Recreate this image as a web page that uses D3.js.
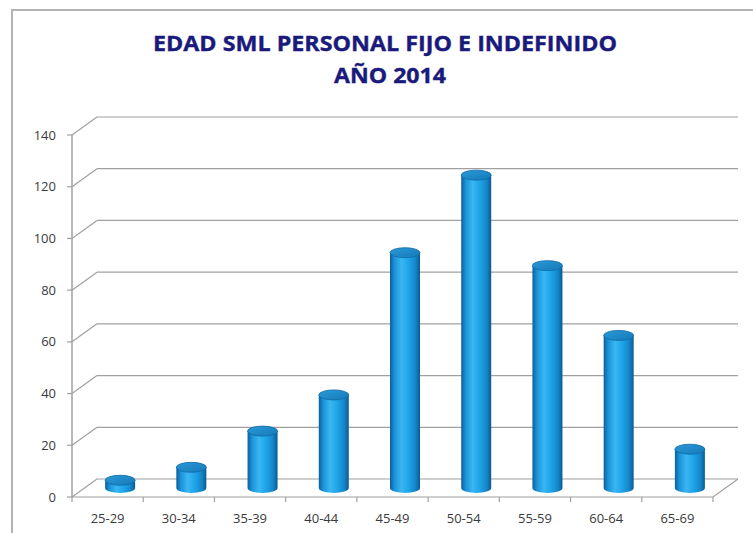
<!DOCTYPE html>
<html>
<head>
<meta charset="utf-8">
<script src="https://cdn.jsdelivr.net/npm/d3@7"></script>
<style>
  body { margin: 0; background: #fff; }
  svg { display: block; }
  text { font-family: "Open Sans", "Liberation Sans", sans-serif; }
</style>
</head>
<body>
<svg id="chart" width="753" height="533"></svg>
<script>
// data
const ageGroups = ["25-29", "30-34", "35-39", "40-44", "45-49", "50-54", "55-59", "60-64", "65-69"];
const staffCount = [3, 8, 22, 36, 91, 121, 86, 59, 15];
const yTicks = [0, 20, 40, 60, 80, 100, 120, 140];
const titleLines = ["EDAD SML PERSONAL FIJO E INDEFINIDO", "AÑO 2014"];

const svg = d3.select('#chart');

// depth of the 3d box (back wall offset)
const depthX = 25, depthY = -18;

const xScale = d3.scaleBand()
    .domain(ageGroups)
    .range([72, 713]);

const yScale = d3.scaleLinear()
    .domain([0, 140])
    .range([497, 135]);

const gridColor = '#a0a0a0';

// outer frame (cut off at right and bottom)
svg.append('path')
    .attr('d', 'M12,533 L12,10 L753,10')
    .attr('fill', 'none')
    .attr('stroke', '#b3b3b3')
    .attr('stroke-width', 2);

// title
titleLines.forEach((t, i) => {
    svg.append('text')
        .attr('x', i === 0 ? 385 : 390)
        .attr('y', i === 0 ? 51 : 83)
        .attr('text-anchor', 'middle')
        .attr('textLength', i === 0 ? 464 : 112)
        .attr('lengthAdjust', 'spacingAndGlyphs')
        .style('font-size', '22px')
        .style('font-weight', 'bold')
        .style('fill', '#1a1a7c')
        .style('stroke', '#1a1a7c')
        .style('stroke-width', 0.4)
        .text(t);
});

const grid = svg.append('g');

// back wall gridlines + left wall diagonals
yTicks.forEach(v => {
    const y = yScale(v);
    grid.append('line')
        .attr('x1', xScale.range()[0] + depthX).attr('x2', xScale.range()[1] + depthX)
        .attr('y1', y + depthY).attr('y2', y + depthY)
        .attr('stroke', gridColor).attr('stroke-width', 1.2);
    grid.append('line')
        .attr('x1', xScale.range()[0]).attr('x2', xScale.range()[0] + depthX)
        .attr('y1', y).attr('y2', y + depthY)
        .attr('stroke', gridColor).attr('stroke-width', 1.2);
});

// floor front edge and right edge
const x0 = xScale.range()[0], x1 = xScale.range()[1], yb = yScale(0);
grid.append('path')
    .attr('d', `M${x0},${yb} L${x1},${yb} L${x1 + depthX},${yb + depthY}`)
    .attr('fill', 'none').attr('stroke', gridColor).attr('stroke-width', 1.2);

// front y axis
grid.append('line')
    .attr('x1', x0).attr('x2', x0)
    .attr('y1', yScale(140)).attr('y2', yb)
    .attr('stroke', gridColor).attr('stroke-width', 1.5);

// y ticks and labels
yTicks.forEach(v => {
    grid.append('line')
        .attr('x1', x0 - 5).attr('x2', x0)
        .attr('y1', yScale(v)).attr('y2', yScale(v))
        .attr('stroke', gridColor).attr('stroke-width', 1.2);
    svg.append('text')
        .attr('x', 56)
        .attr('y', yScale(v) + 4.5)
        .attr('text-anchor', 'end')
        .style('font-size', '13px')
        .style('fill', '#3a3a3a')
        .text(v);
});

// category ticks on the front floor edge
ageGroups.concat([null]).forEach(c => {
    const tx = c === null ? x1 : xScale(c);
    grid.append('line')
        .attr('x1', tx).attr('x2', tx)
        .attr('y1', yb).attr('y2', yb + 5)
        .attr('stroke', gridColor).attr('stroke-width', 1.2);
});

// x labels
svg.selectAll('.xlab')
    .data(ageGroups)
    .enter()
    .append('text')
    .attr('class', 'xlab')
    .attr('x', d => xScale(d) + xScale.bandwidth() / 2)
    .attr('y', 523)
    .attr('text-anchor', 'middle')
    .style('font-size', '13px')
    .style('fill', '#3a3a3a')
    .text(d => d);

// cylinder gradients
const defs = svg.append('defs');
const bodyGrad = defs.append('linearGradient').attr('id', 'cylBody')
    .attr('x1', '0%').attr('x2', '100%').attr('y1', '0%').attr('y2', '0%');
[['0%', '#0b5f9c'], ['15%', '#1a93d8'], ['38%', '#3ab6f3'], ['62%', '#1ea4e8'], ['85%', '#1486c8'], ['100%', '#0a5a92']]
    .forEach(([o, c]) => bodyGrad.append('stop').attr('offset', o).attr('stop-color', c));
const topGrad = defs.append('linearGradient').attr('id', 'cylTop')
    .attr('x1', '0%').attr('x2', '100%').attr('y1', '0%').attr('y2', '100%');
[['0%', '#2a9ad8'], ['100%', '#1679b8']]
    .forEach(([o, c]) => topGrad.append('stop').attr('offset', o).attr('stop-color', c));

// cylinders sit at mid depth
const rx = 15, ry = 5;
const bars = svg.append('g');
ageGroups.forEach((c, i) => {
    const cx = xScale(c) + xScale.bandwidth() / 2 + depthX / 2;
    const base = yScale(0) + depthY / 2;
    const top = yScale(staffCount[i]) + depthY / 2;
    bars.append('path')
        .attr('d', `M${cx - rx},${top} L${cx - rx},${base} A${rx},${ry} 0 0 0 ${cx + rx},${base} L${cx + rx},${top} Z`)
        .attr('fill', 'url(#cylBody)');
    bars.append('ellipse')
        .attr('cx', cx).attr('cy', top)
        .attr('rx', rx).attr('ry', ry)
        .attr('fill', 'url(#cylTop)')
        .attr('stroke', '#0e6aa8').attr('stroke-width', 0.8);
});
</script>
</body>
</html>
